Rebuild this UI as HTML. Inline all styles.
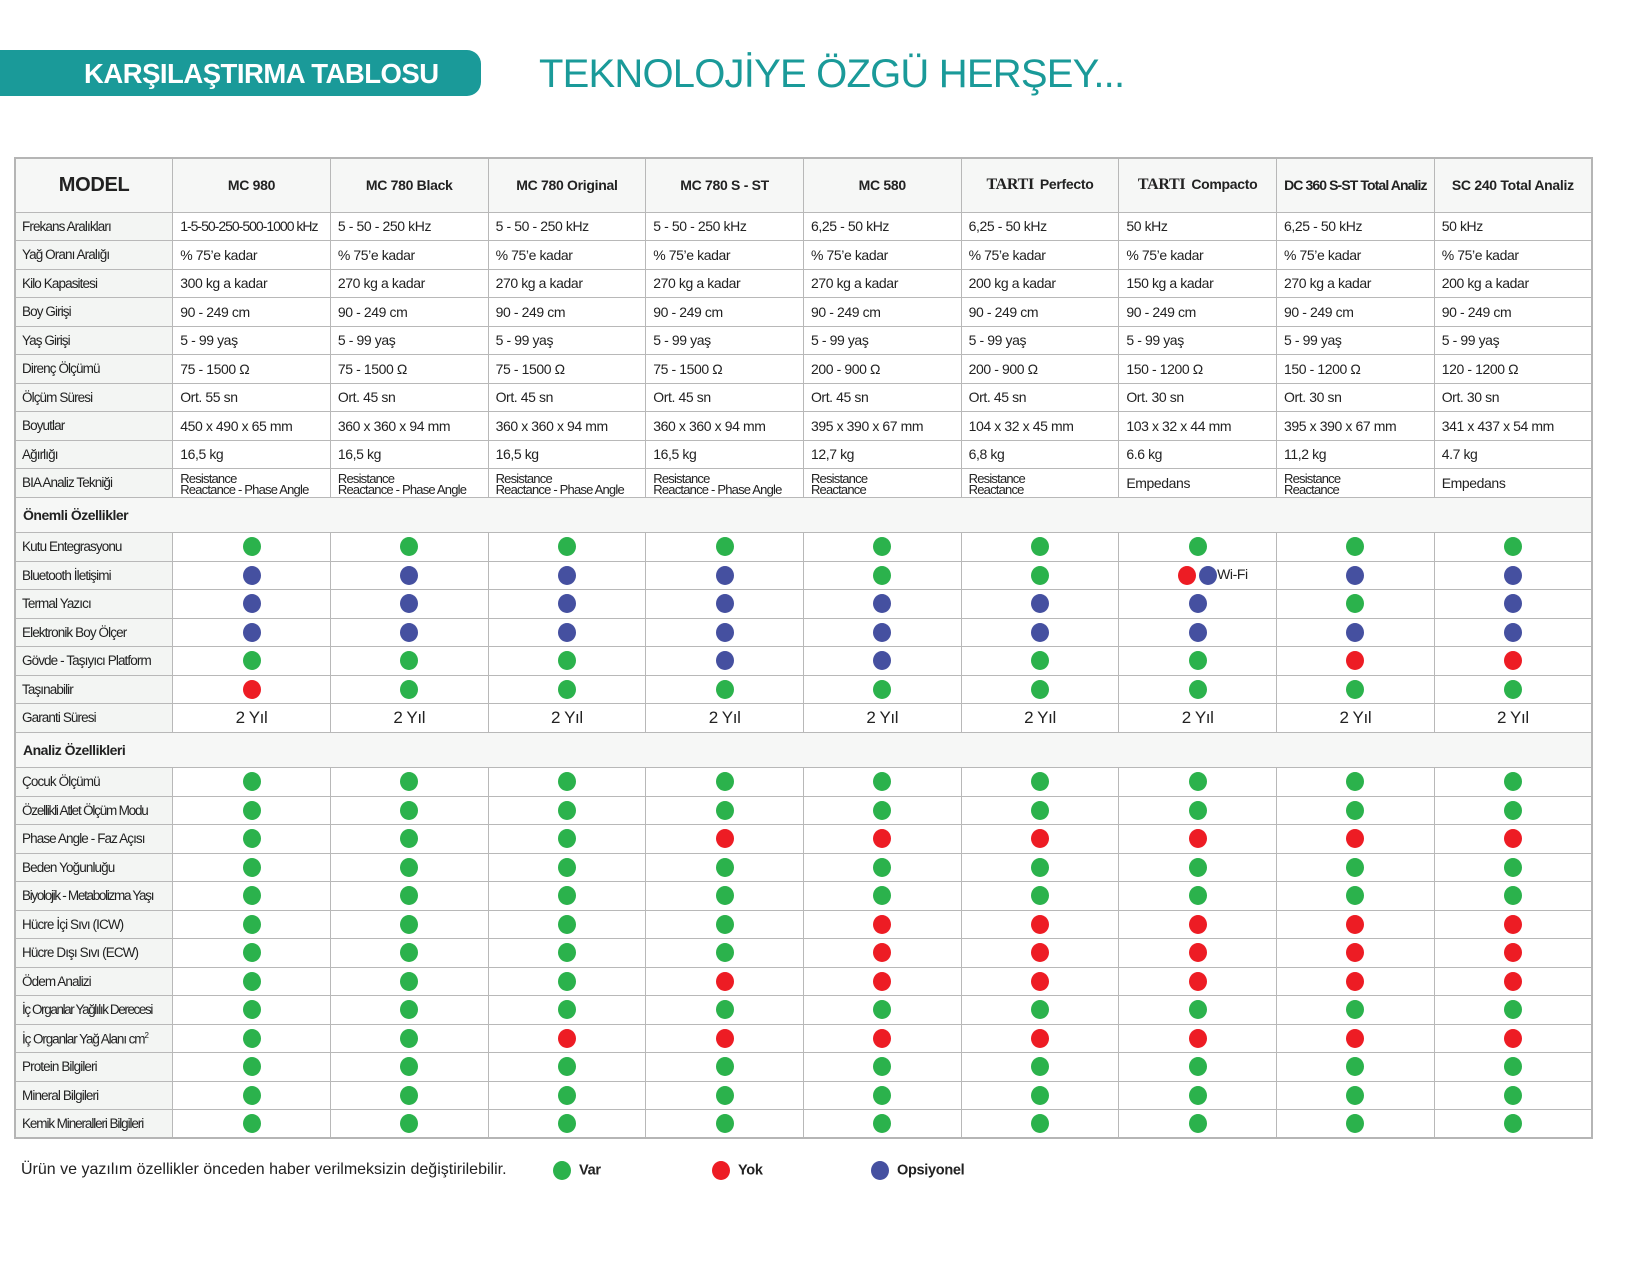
<!DOCTYPE html>
<html><head><meta charset="utf-8"><style>
*{margin:0;padding:0;box-sizing:border-box}
body{width:1646px;height:1279px;background:#fff;font-family:"Liberation Sans",sans-serif;position:relative;overflow:hidden;color:#222}
.banner{position:absolute;left:0;top:50px;width:481px;height:46px;background:#1a9a99;border-radius:0 14px 14px 0}
.banner span{position:absolute;left:84px;top:8px;color:#fff;font-weight:bold;font-size:27.5px;letter-spacing:-0.5px}
.t2{position:absolute;left:539px;top:52px;color:#1a9a99;font-size:40px;letter-spacing:-0.8px}
table{position:absolute;left:14px;top:157px;width:1579px;border-collapse:collapse;table-layout:fixed;border:2px solid #b5b5b5}
td{border:1px solid #b8b8b8;font-size:14px;padding:0 0 0 7px;white-space:nowrap;overflow:hidden;letter-spacing:-0.4px}
tr{height:28.5px}
tr.h{height:54px}
tr.h td{background:#f6f7f6;font-weight:bold;text-align:center;padding:0;letter-spacing:-0.3px}
tr.h td.m{font-size:20px}
td.l{background:#f3f5f3;letter-spacing:-0.9px;font-size:13.5px;padding-left:6px}
tr.s{height:35.5px}
tr.s td{background:#f6f7f6;font-weight:bold;font-size:14px;letter-spacing:-0.5px}
td.c{text-align:center;padding:0}
.d{display:inline-block;width:18px;height:19px;border-radius:50%;vertical-align:middle}
.g{background:#2bb24c}.r{background:#ed1c24}.b{background:#4550a0}
.bia{font-size:13px;line-height:11px;letter-spacing:-0.8px;padding-top:2px}
.ta{font-family:"Liberation Serif",serif;font-weight:bold;font-size:16px;margin-right:6px}
.y{font-size:17px}
.leg{position:absolute;top:1161px;font-size:14.5px;letter-spacing:-0.3px}
.leg .d{margin-right:8px}
</style></head><body>
<div class="banner"><span>KARŞILAŞTIRMA TABLOSU</span></div>
<div class="t2">TEKNOLOJİYE ÖZGÜ HERŞEY...</div>
<table>
<tr class="h"><td class="m">MODEL</td><td>MC 980</td><td>MC 780 Black</td><td>MC 780 Original</td><td>MC 780 S - ST</td><td>MC 580</td><td><span class="ta">TARTI</span>Perfecto</td><td><span class="ta">TARTI</span>Compacto</td><td style="letter-spacing:-0.9px">DC 360 S-ST Total Analiz</td><td>SC 240 Total Analiz</td></tr>
<tr><td class="l">Frekans Aralıkları</td><td style="letter-spacing:-1px">1-5-50-250-500-1000 kHz</td><td>5 - 50 - 250 kHz</td><td>5 - 50 - 250 kHz</td><td>5 - 50 - 250 kHz</td><td>6,25 - 50 kHz</td><td>6,25 - 50 kHz</td><td>50 kHz</td><td>6,25 - 50 kHz</td><td>50 kHz</td></tr>
<tr><td class="l">Yağ Oranı Aralığı</td><td>% 75’e kadar</td><td>% 75’e kadar</td><td>% 75’e kadar</td><td>% 75’e kadar</td><td>% 75’e kadar</td><td>% 75’e kadar</td><td>% 75’e kadar</td><td>% 75’e kadar</td><td>% 75’e kadar</td></tr>
<tr><td class="l">Kilo Kapasitesi</td><td>300 kg a kadar</td><td>270 kg a kadar</td><td>270 kg a kadar</td><td>270 kg a kadar</td><td>270 kg a kadar</td><td>200 kg a kadar</td><td>150 kg a kadar</td><td>270 kg a kadar</td><td>200 kg a kadar</td></tr>
<tr><td class="l">Boy Girişi</td><td>90 - 249 cm</td><td>90 - 249 cm</td><td>90 - 249 cm</td><td>90 - 249 cm</td><td>90 - 249 cm</td><td>90 - 249 cm</td><td>90 - 249 cm</td><td>90 - 249 cm</td><td>90 - 249 cm</td></tr>
<tr><td class="l">Yaş Girişi</td><td>5 - 99 yaş</td><td>5 - 99 yaş</td><td>5 - 99 yaş</td><td>5 - 99 yaş</td><td>5 - 99 yaş</td><td>5 - 99 yaş</td><td>5 - 99 yaş</td><td>5 - 99 yaş</td><td>5 - 99 yaş</td></tr>
<tr><td class="l">Direnç Ölçümü</td><td>75 - 1500 Ω</td><td>75 - 1500 Ω</td><td>75 - 1500 Ω</td><td>75 - 1500 Ω</td><td>200 - 900 Ω</td><td>200 - 900 Ω</td><td>150 - 1200 Ω</td><td>150 - 1200 Ω</td><td>120 - 1200 Ω</td></tr>
<tr><td class="l">Ölçüm Süresi</td><td>Ort. 55 sn</td><td>Ort. 45 sn</td><td>Ort. 45 sn</td><td>Ort. 45 sn</td><td>Ort. 45 sn</td><td>Ort. 45 sn</td><td>Ort. 30 sn</td><td>Ort. 30 sn</td><td>Ort. 30 sn</td></tr>
<tr><td class="l">Boyutlar</td><td>450 x 490 x 65 mm</td><td>360 x 360 x 94 mm</td><td>360 x 360 x 94 mm</td><td>360 x 360 x 94 mm</td><td>395 x 390 x 67 mm</td><td>104 x 32 x 45 mm</td><td>103 x 32 x 44 mm</td><td>395 x 390 x 67 mm</td><td>341 x 437 x 54 mm</td></tr>
<tr><td class="l">Ağırlığı</td><td>16,5 kg</td><td>16,5 kg</td><td>16,5 kg</td><td>16,5 kg</td><td>12,7 kg</td><td>6,8 kg</td><td>6.6 kg</td><td>11,2 kg</td><td>4.7 kg</td></tr>
<tr><td class="l">BIA Analiz Tekniği</td><td class="bia">Resistance<br>Reactance - Phase Angle</td><td class="bia">Resistance<br>Reactance - Phase Angle</td><td class="bia">Resistance<br>Reactance - Phase Angle</td><td class="bia">Resistance<br>Reactance - Phase Angle</td><td class="bia">Resistance<br>Reactance</td><td class="bia">Resistance<br>Reactance</td><td>Empedans</td><td class="bia">Resistance<br>Reactance</td><td>Empedans</td></tr>
<tr class="s"><td colspan="10">Önemli Özellikler</td></tr>
<tr><td class="l">Kutu Entegrasyonu</td><td class="c"><i class="d g"></i></td><td class="c"><i class="d g"></i></td><td class="c"><i class="d g"></i></td><td class="c"><i class="d g"></i></td><td class="c"><i class="d g"></i></td><td class="c"><i class="d g"></i></td><td class="c"><i class="d g"></i></td><td class="c"><i class="d g"></i></td><td class="c"><i class="d g"></i></td></tr>
<tr><td class="l">Bluetooth İletişimi</td><td class="c"><i class="d b"></i></td><td class="c"><i class="d b"></i></td><td class="c"><i class="d b"></i></td><td class="c"><i class="d b"></i></td><td class="c"><i class="d g"></i></td><td class="c"><i class="d g"></i></td><td class="c" style="padding-left:30px"><i class="d r"></i> <i class="d b"></i>Wi-Fi</td><td class="c"><i class="d b"></i></td><td class="c"><i class="d b"></i></td></tr>
<tr><td class="l">Termal Yazıcı</td><td class="c"><i class="d b"></i></td><td class="c"><i class="d b"></i></td><td class="c"><i class="d b"></i></td><td class="c"><i class="d b"></i></td><td class="c"><i class="d b"></i></td><td class="c"><i class="d b"></i></td><td class="c"><i class="d b"></i></td><td class="c"><i class="d g"></i></td><td class="c"><i class="d b"></i></td></tr>
<tr><td class="l">Elektronik Boy Ölçer</td><td class="c"><i class="d b"></i></td><td class="c"><i class="d b"></i></td><td class="c"><i class="d b"></i></td><td class="c"><i class="d b"></i></td><td class="c"><i class="d b"></i></td><td class="c"><i class="d b"></i></td><td class="c"><i class="d b"></i></td><td class="c"><i class="d b"></i></td><td class="c"><i class="d b"></i></td></tr>
<tr><td class="l">Gövde - Taşıyıcı Platform</td><td class="c"><i class="d g"></i></td><td class="c"><i class="d g"></i></td><td class="c"><i class="d g"></i></td><td class="c"><i class="d b"></i></td><td class="c"><i class="d b"></i></td><td class="c"><i class="d g"></i></td><td class="c"><i class="d g"></i></td><td class="c"><i class="d r"></i></td><td class="c"><i class="d r"></i></td></tr>
<tr><td class="l">Taşınabilir</td><td class="c"><i class="d r"></i></td><td class="c"><i class="d g"></i></td><td class="c"><i class="d g"></i></td><td class="c"><i class="d g"></i></td><td class="c"><i class="d g"></i></td><td class="c"><i class="d g"></i></td><td class="c"><i class="d g"></i></td><td class="c"><i class="d g"></i></td><td class="c"><i class="d g"></i></td></tr>
<tr><td class="l">Garanti Süresi</td><td class="c y">2 Yıl</td><td class="c y">2 Yıl</td><td class="c y">2 Yıl</td><td class="c y">2 Yıl</td><td class="c y">2 Yıl</td><td class="c y">2 Yıl</td><td class="c y">2 Yıl</td><td class="c y">2 Yıl</td><td class="c y">2 Yıl</td></tr>
<tr class="s"><td colspan="10">Analiz Özellikleri</td></tr>
<tr><td class="l">Çocuk Ölçümü</td><td class="c"><i class="d g"></i></td><td class="c"><i class="d g"></i></td><td class="c"><i class="d g"></i></td><td class="c"><i class="d g"></i></td><td class="c"><i class="d g"></i></td><td class="c"><i class="d g"></i></td><td class="c"><i class="d g"></i></td><td class="c"><i class="d g"></i></td><td class="c"><i class="d g"></i></td></tr>
<tr><td class="l" style="letter-spacing:-1.2px">Özellikli Atlet Ölçüm Modu</td><td class="c"><i class="d g"></i></td><td class="c"><i class="d g"></i></td><td class="c"><i class="d g"></i></td><td class="c"><i class="d g"></i></td><td class="c"><i class="d g"></i></td><td class="c"><i class="d g"></i></td><td class="c"><i class="d g"></i></td><td class="c"><i class="d g"></i></td><td class="c"><i class="d g"></i></td></tr>
<tr><td class="l">Phase Angle - Faz Açısı</td><td class="c"><i class="d g"></i></td><td class="c"><i class="d g"></i></td><td class="c"><i class="d g"></i></td><td class="c"><i class="d r"></i></td><td class="c"><i class="d r"></i></td><td class="c"><i class="d r"></i></td><td class="c"><i class="d r"></i></td><td class="c"><i class="d r"></i></td><td class="c"><i class="d r"></i></td></tr>
<tr><td class="l">Beden Yoğunluğu</td><td class="c"><i class="d g"></i></td><td class="c"><i class="d g"></i></td><td class="c"><i class="d g"></i></td><td class="c"><i class="d g"></i></td><td class="c"><i class="d g"></i></td><td class="c"><i class="d g"></i></td><td class="c"><i class="d g"></i></td><td class="c"><i class="d g"></i></td><td class="c"><i class="d g"></i></td></tr>
<tr><td class="l" style="letter-spacing:-1.3px">Biyolojik - Metabolizma Yaşı</td><td class="c"><i class="d g"></i></td><td class="c"><i class="d g"></i></td><td class="c"><i class="d g"></i></td><td class="c"><i class="d g"></i></td><td class="c"><i class="d g"></i></td><td class="c"><i class="d g"></i></td><td class="c"><i class="d g"></i></td><td class="c"><i class="d g"></i></td><td class="c"><i class="d g"></i></td></tr>
<tr><td class="l">Hücre İçi Sıvı (ICW)</td><td class="c"><i class="d g"></i></td><td class="c"><i class="d g"></i></td><td class="c"><i class="d g"></i></td><td class="c"><i class="d g"></i></td><td class="c"><i class="d r"></i></td><td class="c"><i class="d r"></i></td><td class="c"><i class="d r"></i></td><td class="c"><i class="d r"></i></td><td class="c"><i class="d r"></i></td></tr>
<tr><td class="l">Hücre Dışı Sıvı (ECW)</td><td class="c"><i class="d g"></i></td><td class="c"><i class="d g"></i></td><td class="c"><i class="d g"></i></td><td class="c"><i class="d g"></i></td><td class="c"><i class="d r"></i></td><td class="c"><i class="d r"></i></td><td class="c"><i class="d r"></i></td><td class="c"><i class="d r"></i></td><td class="c"><i class="d r"></i></td></tr>
<tr><td class="l">Ödem Analizi</td><td class="c"><i class="d g"></i></td><td class="c"><i class="d g"></i></td><td class="c"><i class="d g"></i></td><td class="c"><i class="d r"></i></td><td class="c"><i class="d r"></i></td><td class="c"><i class="d r"></i></td><td class="c"><i class="d r"></i></td><td class="c"><i class="d r"></i></td><td class="c"><i class="d r"></i></td></tr>
<tr><td class="l" style="letter-spacing:-1.4px">İç Organlar Yağlılık Derecesi</td><td class="c"><i class="d g"></i></td><td class="c"><i class="d g"></i></td><td class="c"><i class="d g"></i></td><td class="c"><i class="d g"></i></td><td class="c"><i class="d g"></i></td><td class="c"><i class="d g"></i></td><td class="c"><i class="d g"></i></td><td class="c"><i class="d g"></i></td><td class="c"><i class="d g"></i></td></tr>
<tr><td class="l" style="letter-spacing:-1.1px">İç Organlar Yağ Alanı cm<sup style="font-size:8px">2</sup></td><td class="c"><i class="d g"></i></td><td class="c"><i class="d g"></i></td><td class="c"><i class="d r"></i></td><td class="c"><i class="d r"></i></td><td class="c"><i class="d r"></i></td><td class="c"><i class="d r"></i></td><td class="c"><i class="d r"></i></td><td class="c"><i class="d r"></i></td><td class="c"><i class="d r"></i></td></tr>
<tr><td class="l">Protein Bilgileri</td><td class="c"><i class="d g"></i></td><td class="c"><i class="d g"></i></td><td class="c"><i class="d g"></i></td><td class="c"><i class="d g"></i></td><td class="c"><i class="d g"></i></td><td class="c"><i class="d g"></i></td><td class="c"><i class="d g"></i></td><td class="c"><i class="d g"></i></td><td class="c"><i class="d g"></i></td></tr>
<tr><td class="l">Mineral Bilgileri</td><td class="c"><i class="d g"></i></td><td class="c"><i class="d g"></i></td><td class="c"><i class="d g"></i></td><td class="c"><i class="d g"></i></td><td class="c"><i class="d g"></i></td><td class="c"><i class="d g"></i></td><td class="c"><i class="d g"></i></td><td class="c"><i class="d g"></i></td><td class="c"><i class="d g"></i></td></tr>
<tr><td class="l" style="letter-spacing:-1.1px">Kemik Mineralleri Bilgileri</td><td class="c"><i class="d g"></i></td><td class="c"><i class="d g"></i></td><td class="c"><i class="d g"></i></td><td class="c"><i class="d g"></i></td><td class="c"><i class="d g"></i></td><td class="c"><i class="d g"></i></td><td class="c"><i class="d g"></i></td><td class="c"><i class="d g"></i></td><td class="c"><i class="d g"></i></td></tr>
</table>
<div class="leg" style="left:21px;font-size:16px;letter-spacing:0">Ürün ve yazılım özellikler önceden haber verilmeksizin değiştirilebilir.</div>
<div class="leg" style="left:553px;font-weight:bold"><i class="d g"></i>Var</div>
<div class="leg" style="left:712px;font-weight:bold"><i class="d r"></i>Yok</div>
<div class="leg" style="left:871px;font-weight:bold"><i class="d b"></i>Opsiyonel</div>
</body></html>
